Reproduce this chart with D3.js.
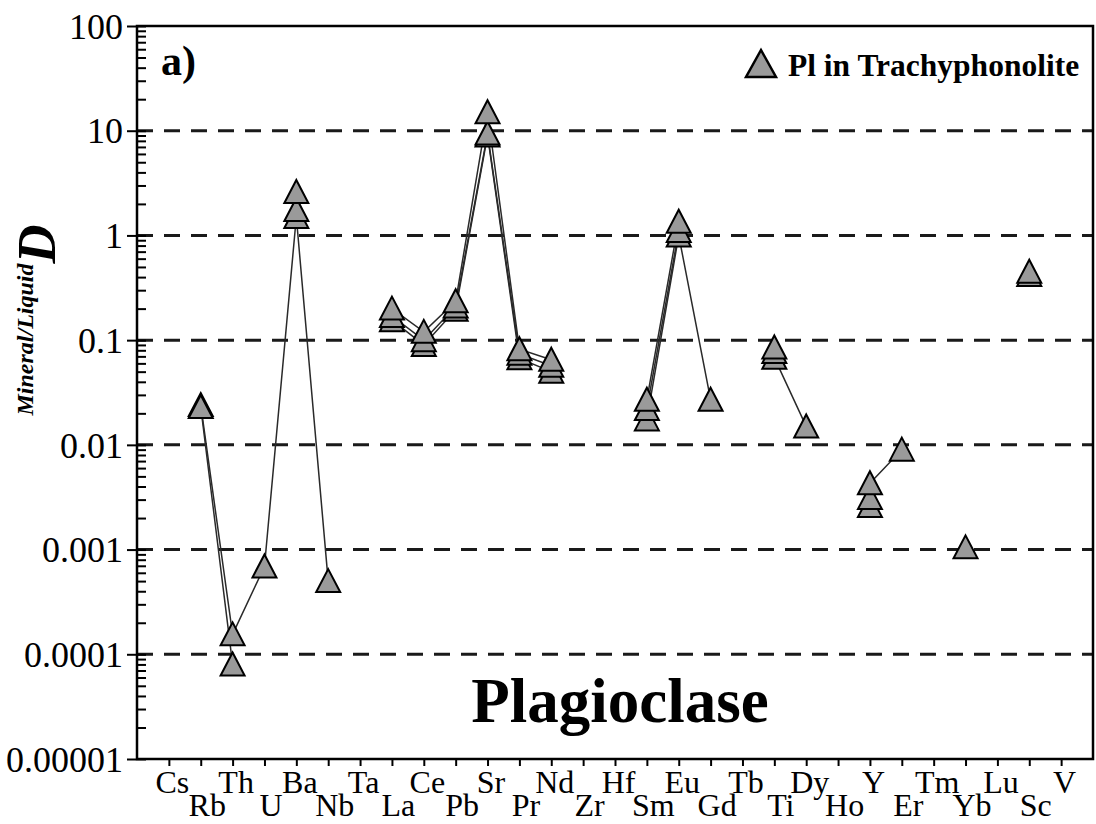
<!DOCTYPE html>
<html>
<head>
<meta charset="utf-8">
<script src="https://cdn.jsdelivr.net/npm/d3@7"></script>
<style>
  body { margin: 0; background: #fff; }
  svg { display: block; }
  text { font-family: "Liberation Serif", "Times New Roman", Times, serif; fill: #000; }
</style>
</head>
<body>
<div id="chart"></div>
<script>
// element order on the x axis
const elements = ["Cs","Rb","Th","U","Ba","Nb","Ta","La","Ce","Pb","Sr","Pr","Nd","Zr","Hf",
  "Sm","Eu","Gd","Tb","Ti","Dy","Ho","Y","Er","Tm","Yb","Lu","Sc","V"];

// partition coefficients, one array per plagioclase analysis (null = not measured)
const pl1 = [null, 0.024, 0.000155, 0.00069, 1.5, 0.0005, null, 0.155, 0.09, 0.195, 9.0, 0.067, 0.05, null, null,
  0.0175, 1.0, 0.027, null, 0.068, 0.015, null, 0.0026, null, null, 0.00105, null, 0.42, null];
const pl2 = [null, 0.023, 0.00008, null, 1.75, null, null, 0.17, 0.10, 0.21, 9.4, 0.074, 0.057, null, null,
  0.022, 1.1, null, null, 0.077, null, null, 0.0031, null, null, null, null, 0.45, null];
const pl3 = [null, null, null, null, 2.6, null, null, 0.20, 0.12, 0.235, 15, 0.082, 0.065, null, null,
  0.027, 1.35, null, null, 0.085, null, null, 0.0043, 0.009, null, null, null, null, null];

const yTicks = [0.00001, 0.0001, 0.001, 0.01, 0.1, 1, 10, 100];
const yTickLabels = ["0.00001", "0.0001", "0.001", "0.01", "0.1", "1", "10", "100"];
const gridValues = [0.0001, 0.001, 0.01, 0.1, 1, 10];

const W = 1096, H = 824;
const margin = {left: 137, right: 1093, top: 26, bottom: 759};

const svg = d3.select("#chart").append("svg")
  .attr("width", W)
  .attr("height", H);

// x: one step padding on each side of the element list
let x = d3.scalePoint()
  .domain(elements)
  .range([margin.left, margin.right])
  .padding(1);

let y = d3.scaleLog()
  .domain([0.00001, 100])
  .range([margin.bottom, margin.top]);

// dashed grid lines
svg.selectAll("line.grid").data(gridValues).enter()
  .append("line")
  .attr("class", "grid")
  .attr("x1", margin.left)
  .attr("x2", margin.right)
  .attr("y1", d => y(d))
  .attr("y2", d => y(d))
  .attr("stroke", "#1a1a1a")
  .attr("stroke-width", 3)
  .attr("stroke-dasharray", "16,11");

// left axis: major ticks outward with labels
svg.append("g")
  .attr("transform", `translate(${margin.left},0)`)
  .call(d3.axisLeft(y).tickValues(yTicks).tickSize(10).tickPadding(4)
    .tickFormat((d, i) => yTickLabels[i]))
  .call(g => g.select(".domain").remove())
  .call(g => g.selectAll("line").attr("stroke", "#000").attr("stroke-width", 2))
  .call(g => g.selectAll("text")
    .style("font-size", "36px")
    .attr("dy", "0.34em"));

// left axis: minor ticks inward
let minor = [];
for (let e = -5; e < 2; e++) {
  for (let m = 1; m < 10; m++) minor.push(m * Math.pow(10, e));
}
minor.push(100);
svg.append("g")
  .attr("transform", `translate(${margin.left},0)`)
  .call(d3.axisLeft(y).tickValues(minor).tickSize(-9).tickFormat(""))
  .call(g => g.select(".domain").remove())
  .call(g => g.selectAll("line").attr("stroke", "#000").attr("stroke-width", 2));

// bottom axis, labels on two staggered rows
svg.append("g")
  .attr("transform", `translate(0,${margin.bottom})`)
  .call(d3.axisBottom(x).tickSize(7).tickPadding(0))
  .call(g => g.select(".domain").remove())
  .call(g => g.selectAll("line").attr("stroke", "#000").attr("stroke-width", 2))
  .call(g => g.selectAll("text")
    .style("font-size", "32px")
    .attr("dy", 0)
    .attr("x", (d, i) => i % 2 === 0 ? 3 : 6)
    .attr("y", (d, i) => i % 2 === 0 ? 34 : 57));

// connecting lines (broken where an element is missing)
const series = [pl1, pl2, pl3];
let line = d3.line()
  .defined(d => d != null)
  .x((d, i) => x(elements[i]))
  .y(d => y(d));

svg.selectAll("path.series").data(series).enter()
  .append("path")
  .attr("class", "series")
  .attr("fill", "none")
  .attr("stroke", "#2a2a2a")
  .attr("stroke-width", 1.5)
  .attr("d", d => line(d));

// triangle markers
const tri = "M0,-12L12,11L-12,11Z";
series.forEach(function(s) {
  const pts = s.map((v, i) => ({el: elements[i], v: v})).filter(p => p.v != null);
  svg.selectAll(null).data(pts).enter()
    .append("path")
    .attr("d", tri)
    .attr("transform", p => `translate(${x(p.el)},${y(p.v)})`)
    .attr("fill", "#9a9a9a")
    .attr("stroke", "#000")
    .attr("stroke-width", 2)
    .attr("stroke-linejoin", "miter");
});

// frame
svg.append("rect")
  .attr("x", margin.left)
  .attr("y", margin.top)
  .attr("width", margin.right - margin.left)
  .attr("height", margin.bottom - margin.top)
  .attr("fill", "none")
  .attr("stroke", "#000")
  .attr("stroke-width", 2.5);

// panel letter
svg.append("text")
  .attr("x", 161)
  .attr("y", 75)
  .style("font-size", "42px")
  .style("font-weight", "bold")
  .text("a)");

// legend
svg.append("path")
  .attr("d", "M0,-14L15,13L-15,13Z")
  .attr("transform", "translate(761,64)")
  .attr("fill", "#9a9a9a")
  .attr("stroke", "#000")
  .attr("stroke-width", 2.5);
svg.append("text")
  .attr("x", 788)
  .attr("y", 76)
  .style("font-size", "31.5px")
  .style("font-weight", "bold")
  .text("Pl in Trachyphonolite");

// mineral name
svg.append("text")
  .attr("x", 620)
  .attr("y", 722)
  .attr("text-anchor", "middle")
  .style("font-size", "63px")
  .style("font-weight", "bold")
  .text("Plagioclase");

// y axis title
let yt = svg.append("text")
  .attr("transform", "translate(55,320) rotate(-90)")
  .attr("text-anchor", "middle")
  .style("font-weight", "bold")
  .style("font-style", "italic");
yt.append("tspan")
  .style("font-size", "24px")
  .attr("dy", -22)
  .text("Mineral/Liquid");
yt.append("tspan")
  .style("font-size", "54px")
  .attr("dy", 22)
  .text("D");
</script>
</body>
</html>
